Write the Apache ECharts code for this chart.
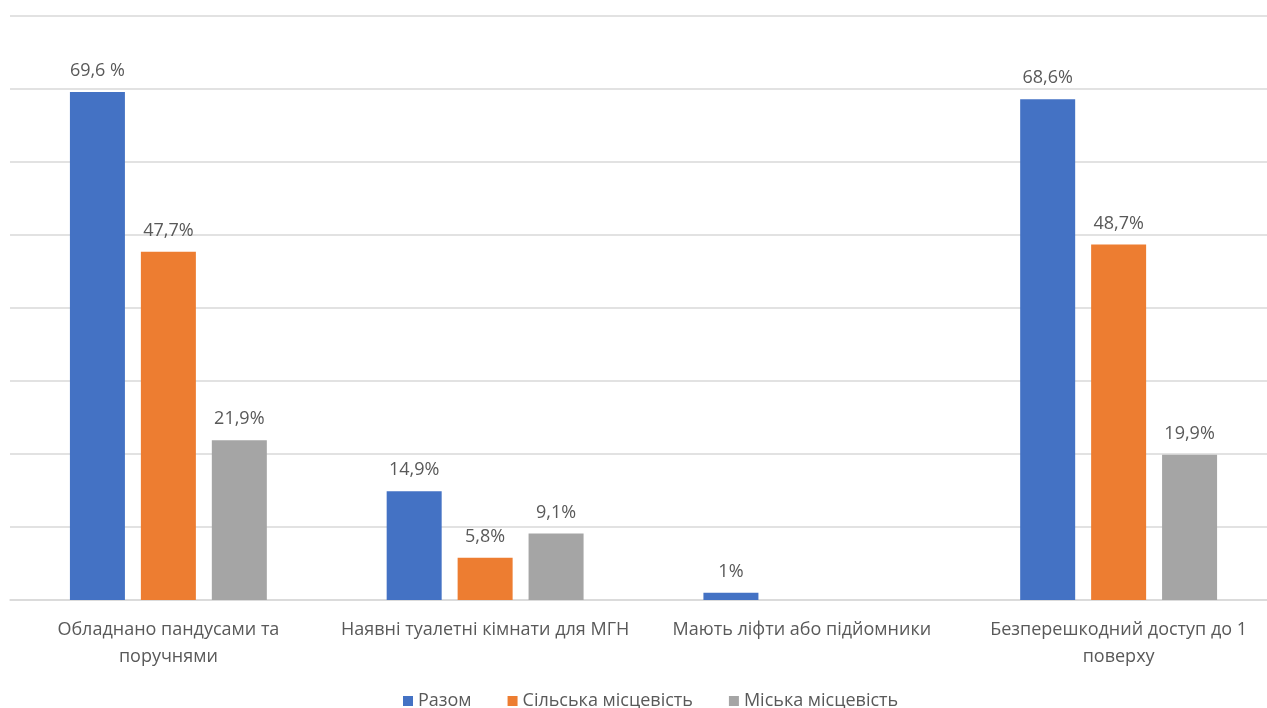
<!DOCTYPE html>
<html><head><meta charset="utf-8">
<script src="https://cdn.jsdelivr.net/npm/echarts@6/dist/echarts.min.js"></script>
<style>html,body{margin:0;padding:0;background:#fff;overflow:hidden}#c{width:1280px;height:708px}</style>
</head><body><div id="c"></div>
<script>
const categories = ["Обладнано пандусами та\nпоручнями", "Наявні туалетні кімнати для МГН", "Мають ліфти або підйомники", "Безперешкодний доступ до 1\nповерху"];
const seriesNames = ["Разом", "Сільська місцевість", "Міська місцевість"];
const razom = [69.6, 14.9, 1, 68.6];
const silska = [47.7, 5.8, null, 48.7];
const miska = [21.9, 9.1, null, 19.9];
const razomLabels = ["69,6 %", "14,9%", "1%", "68,6%"];
const silskaLabels = ["47,7%", "5,8%", "", "48,7%"];
const miskaLabels = ["21,9%", "9,1%", "", "19,9%"];
const colors = ["#4472c4", "#ed7d31", "#a5a5a5"];
const font = "'Open Sans', 'Noto Sans', sans-serif";
function mk(name, data, labels, color) {
  return {
    name, type: 'bar', data, barWidth: 55, barGap: '29%',
    itemStyle: { color },
    label: { show: true, position: 'top', distance: 12, color: '#595959', fontSize: 18, fontFamily: font,
      formatter: p => labels[p.dataIndex] }
  };
}
const chart = echarts.init(document.getElementById('c'));
chart.setOption({
  animation: false,
  grid: { left: 10, right: 3, top: 16, bottom: 108, containLabel: false },
  legend: { bottom: -7, left: 398, itemWidth: 10, itemHeight: 10, itemGap: 36, icon: 'rect',
    textStyle: { color: '#595959', fontSize: 18, fontFamily: font } },
  xAxis: { type: 'category', data: categories,
    axisLine: { lineStyle: { color: '#d9d9d9', width: 1.5 } }, axisTick: { show: false },
    axisLabel: { color: '#595959', fontSize: 18, fontFamily: font, margin: 16, lineHeight: 27, interval: 0 } },
  yAxis: { type: 'value', min: 0, max: 80, interval: 10, axisLabel: { show: false },
    splitLine: { lineStyle: { color: '#d9d9d9', width: 1.5 } } },
  series: [
    mk(seriesNames[0], razom, razomLabels, colors[0]),
    mk(seriesNames[1], silska, silskaLabels, colors[1]),
    mk(seriesNames[2], miska, miskaLabels, colors[2])
  ]
});
</script></body></html>
